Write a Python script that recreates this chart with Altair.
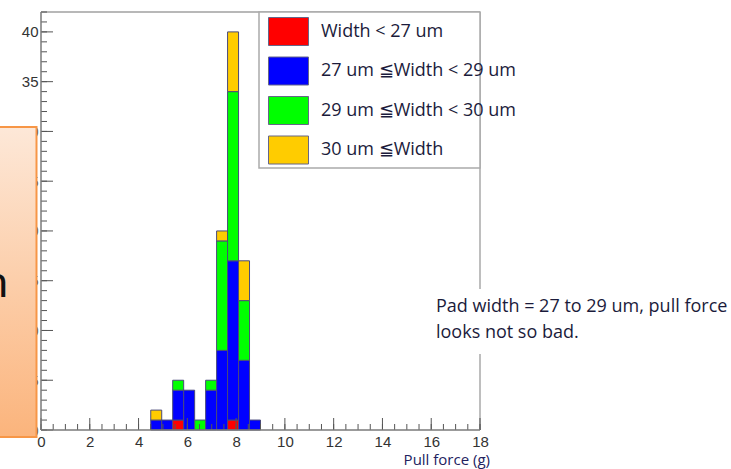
import altair as alt
import pandas as pd

# ---------------- data ----------------
bin_lo = [4.5, 4.95, 5.4, 5.85, 6.3, 6.75, 7.2, 7.65, 8.1, 8.55]
bin_width = 0.45
red = [0, 0, 1, 0, 0, 0, 0, 1, 0, 0]
blue = [1, 1, 3, 4, 0, 4, 8, 16, 7, 1]
green = [0, 0, 1, 0, 1, 1, 11, 17, 6, 0]
yellow = [1, 0, 0, 0, 0, 0, 1, 6, 4, 0]
series_labels = ["Width < 27 um", "27 um ≦Width <  29 um", "29 um ≦Width < 30 um", "30 um ≦Width"]
series_colors = ["#FF0000", "#0000FF", "#00FF00", "#FFCC00"]
x_label_values = [0, 2, 4, 6, 8, 10, 12, 14, 16, 18]
y_label_values = [0, 5, 10, 15, 20, 25, 30, 35, 40]
x_minor = [i * 0.5 for i in range(37)]
y_minor = list(range(0, 43))

# ---------------- build stacked table ----------------
rows = []
for i, lo in enumerate(bin_lo):
    base = 0
    for lab, vals in zip(series_labels, [red, blue, green, yellow]):
        v = vals[i]
        if v > 0:
            rows.append({"lo": lo, "hi": lo + bin_width, "y0": base, "y1": base + v, "series": lab})
        base += v
bars_df = pd.DataFrame(rows)

W, H = 439, 418
xs = alt.Scale(domain=[0, 18], nice=False, zero=False)
ys = alt.Scale(domain=[0, 42], nice=False, zero=False)
one = pd.DataFrame({"a": [0]})

FONT_AX = "Liberation Sans"
FONT_TXT = "Open Sans"
TXT_COL = "#1b1b3b"

bars = alt.Chart(bars_df).mark_rect(stroke="#4a4a7a", strokeWidth=1).encode(
    x=alt.X("lo:Q", scale=xs, axis=alt.Axis(values=x_label_values, ticks=False, domain=False, grid=False,
                                             labelFont=FONT_AX, labelFontSize=15, labelColor="#333333",
                                             labelPadding=4, labelFlush=False, title=None, format="d")),
    x2="hi:Q",
    y=alt.Y("y0:Q", scale=ys, axis=alt.Axis(values=y_label_values, ticks=False, domain=False, grid=False,
                                             labelFont=FONT_AX, labelFontSize=15, labelColor="#333333",
                                             labelPadding=3, title=None, format="d")),
    y2="y1:Q",
    color=alt.Color("series:N", scale=alt.Scale(domain=series_labels, range=series_colors),
                    legend=alt.Legend(orient="none", legendX=227, legendY=-1, title=None,
                                      symbolType="M-1,-0.7H1V0.7H-1Z", symbolSize=1600,
                                      symbolStrokeColor="#666688", symbolStrokeWidth=1,
                                      labelFont=FONT_TXT, labelFontSize=18, labelColor=TXT_COL,
                                      labelOffset=12, rowPadding=2.5, padding=0, labelLimit=300)),
)

xmaj = pd.DataFrame({"t": x_label_values})
xmin = pd.DataFrame({"t": x_minor})
ymaj = pd.DataFrame({"t": y_label_values})
ymin = pd.DataFrame({"t": y_minor})

tick_col = "#555555"
xt_major = alt.Chart(xmaj).mark_rule(color=tick_col, strokeWidth=1).encode(
    x=alt.X("t:Q", scale=xs), y=alt.value(H), y2=alt.value(H - 12))
xt_minor = alt.Chart(xmin).mark_rule(color=tick_col, strokeWidth=1).encode(
    x=alt.X("t:Q", scale=xs), y=alt.value(H), y2=alt.value(H - 6))
yt_major = alt.Chart(ymaj).mark_rule(color=tick_col, strokeWidth=1).encode(
    y=alt.Y("t:Q", scale=ys), x=alt.value(0), x2=alt.value(12))
yt_minor = alt.Chart(ymin).mark_rule(color=tick_col, strokeWidth=1).encode(
    y=alt.Y("t:Q", scale=ys), x=alt.value(0), x2=alt.value(6))

frame_top = alt.Chart(one).mark_rule(color="#a0a0a0", strokeWidth=1.5).encode(
    x=alt.value(0), x2=alt.value(W), y=alt.value(0))
frame_right = alt.Chart(one).mark_rule(color="#a8a8a8", strokeWidth=1.5).encode(
    x=alt.value(W), y=alt.value(0), y2=alt.value(H))
axis_left = alt.Chart(one).mark_rule(color="#7a7a7a", strokeWidth=1.5).encode(
    x=alt.value(0), y=alt.value(0), y2=alt.value(H))
axis_bottom = alt.Chart(one).mark_rule(color="#7a7a7a", strokeWidth=1.5).encode(
    x=alt.value(0), x2=alt.value(W), y=alt.value(H))

legend_box = alt.Chart(one).mark_rect(fill="white", stroke="#aaaaaa", strokeWidth=1.5).encode(
    x=alt.value(218), x2=alt.value(W), y=alt.value(0), y2=alt.value(156))

note_bg = alt.Chart(one).mark_rect(fill="white").encode(
    x=alt.value(385), x2=alt.value(690), y=alt.value(277), y2=alt.value(342))
note1 = alt.Chart(pd.DataFrame({"txt": ["Pad width = 27 to 29 um, pull force"]})).mark_text(
    align="left", baseline="middle", font=FONT_TXT, fontSize=18, color=TXT_COL).encode(
    text="txt:N", x=alt.value(395), y=alt.value(295))
note2 = alt.Chart(pd.DataFrame({"txt": ["looks not so bad."]})).mark_text(
    align="left", baseline="middle", font=FONT_TXT, fontSize=18, color=TXT_COL).encode(
    text="txt:N", x=alt.value(395), y=alt.value(321))

xtitle = alt.Chart(pd.DataFrame({"txt": ["Pull force (g)"]})).mark_text(
    align="right", baseline="middle", font=FONT_TXT, fontSize=15, color="#222260").encode(
    text="txt:N", x=alt.value(449), y=alt.value(448))

grad = alt.Gradient(gradient="linear",
                    stops=[alt.GradientStop(color="#FDE8D8", offset=0),
                           alt.GradientStop(color="#FBB47C", offset=1)],
                    x1=0, x2=0, y1=0, y2=1)
obox = alt.Chart(one).mark_rect(fill=grad, stroke="#F79646", strokeWidth=2).encode(
    x=alt.value(-60), x2=alt.value(-4.5), y=alt.value(115), y2=alt.value(425))
ntext = alt.Chart(pd.DataFrame({"txt": ["n"]})).mark_text(
    align="right", baseline="alphabetic", font="Lato", fontSize=44, color="#111111").encode(
    text="txt:N", x=alt.value(-33), y=alt.value(285))

chart = alt.layer(
    frame_top, frame_right, bars, xt_minor, xt_major, yt_minor, yt_major, axis_left, axis_bottom,
    legend_box, note_bg, note1, note2, xtitle, obox, ntext
).properties(
    width=W, height=H,
    padding={"left": 41, "top": 12, "right": 251, "bottom": 39},
    autosize=alt.AutoSizeParams(type="none"),
    background="white",
).configure_view(stroke=None)

chart.save("out.html", embed_options={"renderer": "svg", "actions": False})
